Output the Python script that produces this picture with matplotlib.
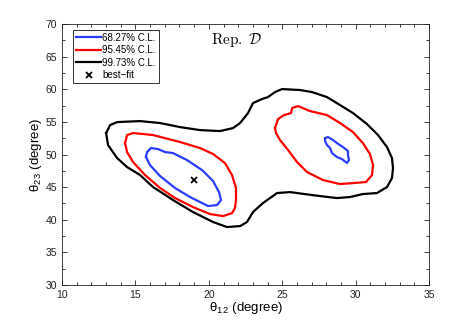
import numpy as np
import matplotlib
matplotlib.use("Agg")
import matplotlib.pyplot as plt
from matplotlib.ticker import MultipleLocator

plt.rcParams["font.family"] = ["Liberation Sans", "DejaVu Sans"]
plt.rcParams["mathtext.fontset"] = "cm"

# Contour outlines (theta12, theta23) in degrees
cl3_x = [13.00, 13.27, 13.75, 15.31, 16.68, 18.04, 19.40, 20.76, 21.65, 22.13,
         22.67, 23.01, 23.62, 24.03, 24.51, 24.99, 26.21, 27.03, 28.05, 28.94,
         29.82, 30.78, 31.53, 32.14, 32.48, 32.55, 32.48, 32.14, 31.46, 30.50,
         29.62, 28.73, 27.57, 26.01, 25.53, 24.65, 23.69, 23.01, 22.60, 22.13,
         21.24, 20.29, 18.92, 17.56, 16.20, 15.31, 14.43, 13.75, 13.13]
cl3_y = [53.30, 54.52, 54.98, 55.13, 54.83, 54.21, 53.75, 53.60, 54.06, 54.83,
         56.36, 57.89, 58.51, 58.81, 59.58, 60.04, 59.89, 59.58, 58.81, 57.59,
         56.36, 54.67, 52.99, 51.15, 49.46, 47.93, 46.40, 45.02, 44.10, 43.95,
         43.49, 43.33, 43.64, 44.10, 44.25, 44.10, 42.57, 41.19, 39.66, 39.04,
         38.89, 39.66, 41.19, 43.03, 45.02, 46.86, 48.08, 49.46, 51.46]

cl2a_x = [14.29, 14.43, 14.84, 16.20, 18.04, 19.40, 20.29, 21.10, 21.58, 21.85,
          21.85, 21.78, 21.58, 20.97, 20.08, 18.92, 17.70, 16.68, 15.65, 14.84,
          14.43]
cl2a_y = [51.76, 52.99, 53.30, 52.99, 51.92, 51.00, 50.08, 48.70, 46.86, 44.87,
          43.03, 41.80, 41.03, 40.57, 40.88, 41.95, 43.33, 44.87, 46.86, 48.85,
          50.38]

cl2b_x = [24.51, 24.71, 25.12, 25.60, 25.67, 26.08, 26.89, 28.05, 28.94, 29.82,
          30.50, 30.98, 31.19, 31.12, 30.71, 29.82, 28.94, 27.78, 26.69, 26.01,
          25.40, 24.85, 24.58]
cl2b_y = [54.06, 55.44, 56.05, 56.36, 57.13, 57.43, 56.67, 56.05, 54.83, 53.45,
          51.76, 50.08, 48.39, 46.86, 45.79, 45.63, 45.48, 46.09, 47.32, 48.85,
          50.69, 52.22, 53.30]

cl1a_x = [15.72, 15.79, 16.06, 16.54, 17.02, 17.56, 18.51, 19.54, 20.29, 20.69,
          20.83, 20.56, 19.95, 19.40, 18.72, 17.70, 16.68, 15.99]
cl1a_y = [49.62, 50.38, 51.00, 50.84, 50.38, 50.23, 49.16, 47.62, 45.94, 44.25,
          43.03, 42.26, 42.11, 42.72, 43.49, 44.87, 46.70, 48.39]

cl1b_x = [27.92, 28.12, 28.46, 28.73, 29.14, 29.48, 29.48, 29.55, 29.41, 29.07,
          28.73, 28.39, 28.26, 28.05, 27.92]
cl1b_y = [52.53, 52.68, 52.22, 51.76, 51.15, 50.54, 49.92, 49.16, 48.70, 49.31,
          49.62, 50.23, 51.00, 51.46, 52.07]

best_fit = (19.0, 46.1)
labels = ["68.27% C.L.", "95.45% C.L.", "99.73% C.L.", "best\u2212fit"]


def closed(xs, ys):
    return list(xs) + [xs[0]], list(ys) + [ys[0]]


fig = plt.figure(figsize=(4.74, 3.21), dpi=100)
ax = fig.add_axes([0.131, 0.112, 0.774, 0.813])

lw = 1.6
x, y = closed(cl1a_x, cl1a_y)
ax.plot(x, y, color="#2a3cff", lw=lw, label=labels[0])
x, y = closed(cl1b_x, cl1b_y)
ax.plot(x, y, color="#2a3cff", lw=lw)
x, y = closed(cl2a_x, cl2a_y)
ax.plot(x, y, color="#ff0000", lw=lw, label=labels[1])
x, y = closed(cl2b_x, cl2b_y)
ax.plot(x, y, color="#ff0000", lw=lw)
x, y = closed(cl3_x, cl3_y)
ax.plot(x, y, color="black", lw=lw, label=labels[2])
ax.plot([best_fit[0]], [best_fit[1]], "x", color="black", ms=5, mew=1.3,
        ls="none", label=labels[3])

ax.set_xlim(10, 35)
ax.set_ylim(30, 70)
ax.xaxis.set_major_locator(MultipleLocator(5))
ax.xaxis.set_minor_locator(MultipleLocator(1))
ax.yaxis.set_major_locator(MultipleLocator(5))
ax.yaxis.set_minor_locator(MultipleLocator(2.5))
ax.tick_params(which="both", direction="in", top=True, right=True,
               labelsize=7.5, colors="#222222", width=0.6)
ax.tick_params(which="major", length=3.5)
ax.tick_params(which="minor", length=2)
for s in ax.spines.values():
    s.set_linewidth(0.6)
    s.set_color("#222222")

ax.set_xlabel("\u03b8$_{\\mathregular{12}}$ (degree)", fontsize=9.5,
              labelpad=0)
ax.set_ylabel("\u03b8$_{\\mathregular{23}}$ (degree)", fontsize=9.5,
              labelpad=1)

ax.text(0.477, 0.94, r"$\mathrm{Rep.}\ \mathcal{D}$", transform=ax.transAxes,
        fontsize=11, ha="center", va="center")

leg = ax.legend(loc="upper left", bbox_to_anchor=(0.03, 0.978), fontsize=7,
                handlelength=2.6, handletextpad=0.1, borderpad=0.3,
                labelspacing=0.25, fancybox=False, framealpha=1,
                borderaxespad=0)
leg.get_frame().set_edgecolor("#333333")
leg.get_frame().set_linewidth(0.7)

fig.savefig("out.png", dpi=100)
